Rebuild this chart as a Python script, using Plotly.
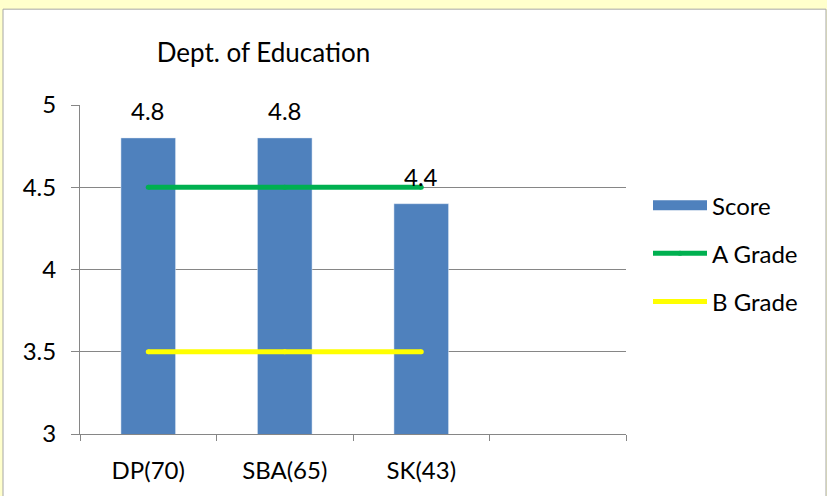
import plotly.graph_objects as go

categories = ["DP(70)", "SBA(65)", "SK(43)"]
all_slots = ["DP(70)", "SBA(65)", "SK(43)", " "]
score = [4.8, 4.8, 4.4]
a_grade = [4.5, 4.5, 4.5]
b_grade = [3.5, 3.5, 3.5]
y_ticks = [3, 3.5, 4, 4.5, 5]
y_tick_text = ["3", "3.5", "4", "4.5", "5"]

FONT = "Lato"
GRID = "#868686"
BAR = "#4F81BD"
L, R, T, B = 80, 626, 105, 438
PW, PH = R - L, B - T

fig = go.Figure()
fig.add_trace(go.Bar(x=categories, y=score, name="Score", marker_color=BAR,
                     width=0.4, legendgroup="s", showlegend=False, hoverinfo="skip"))
# legend entry for the bars (wide rectangle key like the original)
fig.add_trace(go.Scatter(x=[None], y=[None], name="Score", mode="lines",
                         line=dict(color=BAR, width=15), legendgroup="s", hoverinfo="skip"))
fig.add_trace(go.Scatter(x=categories, y=a_grade, name="A Grade", mode="lines+markers",
                         line=dict(color="#00B050", width=5),
                         marker=dict(color="#00B050", size=5, line=dict(width=0)),
                         legendgroup="a", hoverinfo="skip"))
fig.add_trace(go.Scatter(x=categories, y=b_grade, name="B Grade", mode="lines+markers",
                         line=dict(color="#FFFF00", width=5),
                         marker=dict(color="#FFFF00", size=5, line=dict(width=0)),
                         legendgroup="b", hoverinfo="skip"))

for c, v in zip(categories, score):
    fig.add_annotation(x=c, y=v, text=str(v), showarrow=False, yshift=27,
                       font=dict(family=FONT, size=24, color="#000000"))

# outer white chart box
fig.add_shape(type="rect", xref="paper", yref="paper",
              x0=(3 - L) / PW, x1=(826 - L) / PW,
              y0=(B - 510) / PH, y1=(B - 8) / PH,
              fillcolor="white", line=dict(color="#A6A6A6", width=1), layer="below")

fig.update_layout(
    width=827, height=496,
    margin=dict(l=L, r=827 - R, t=T, b=496 - B),
    paper_bgcolor="#FFFFCC",
    plot_bgcolor="white",
    font=dict(family=FONT, size=24, color="#000000"),
    title=dict(text="Dept. of Education", x=263.5 / 827, xanchor="center",
               y=1 - 53 / 496, yanchor="middle", font=dict(family=FONT, size=26)),
    showlegend=True,
    legend=dict(x=(648 - L) / PW, y=(B - 184) / PH, xanchor="left", yanchor="top",
                traceorder="grouped", tracegroupgap=14, itemwidth=54,
                bgcolor="rgba(0,0,0,0)", font=dict(family=FONT, size=24)),
    xaxis=dict(type="category", categoryorder="array", categoryarray=all_slots,
               range=[-0.5, 3.5], showline=True, linecolor=GRID, linewidth=1,
               ticks="outside", tickson="boundaries", ticklen=6, tickcolor=GRID,
               showgrid=False, ticklabelstandoff=15, fixedrange=True),
    yaxis=dict(range=[3, 5], tickvals=y_ticks, ticktext=y_tick_text,
               showline=True, linecolor=GRID, linewidth=1,
               ticks="outside", ticklen=8, tickcolor=GRID,
               showgrid=True, gridcolor=GRID, gridwidth=1, zeroline=False,
               ticklabelstandoff=10, fixedrange=True),
)

fig.write_html("out.html", config={"displayModeBar": False},
               post_script="document.body.style.margin='0px';")
